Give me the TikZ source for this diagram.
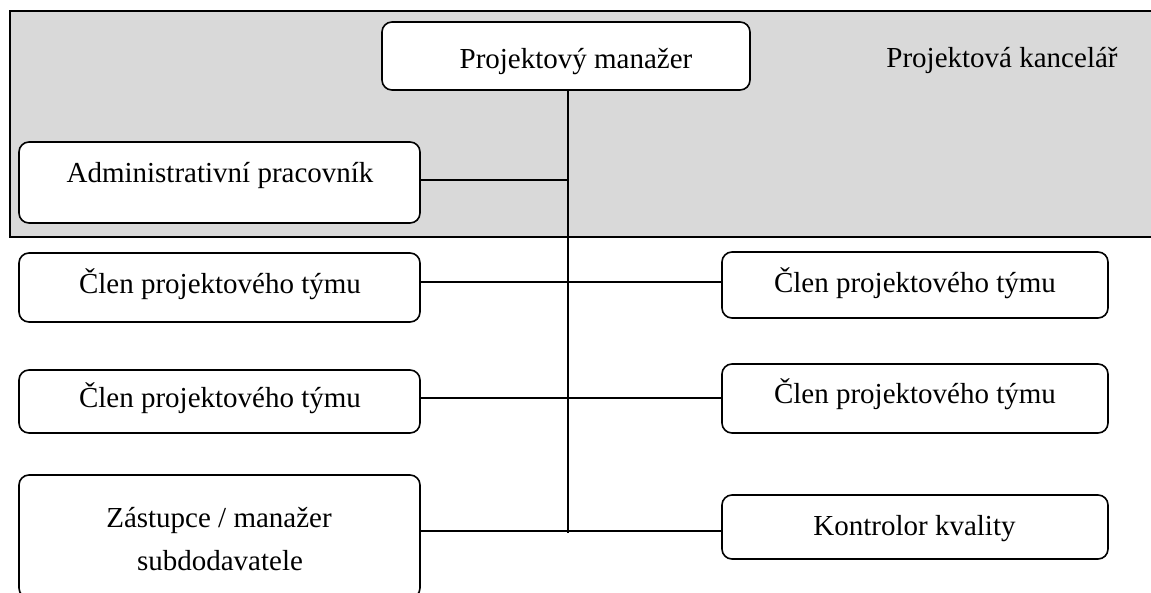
\documentclass[tikz,border=0pt]{standalone}
\usepackage{fontspec}
\setmainfont{Liberation Serif}
\definecolor{officegray}{RGB}{217,217,217}
\tikzset{
  role/.style={draw=black, line width=1.6pt, rounded corners=10pt, fill=white,
    inner sep=0pt, outer sep=0pt},
  caption/.style={anchor=base, inner sep=0pt, font=\fontsize{29}{34}\selectfont},
  link/.style={draw=black, line width=2pt},
}
\begin{document}
\begin{tikzpicture}[x=1pt, y=-1pt]
\useasboundingbox (0,0) rectangle (1151,592);

% project office area
\draw[line width=2pt, fill=officegray] (10,10.5) rectangle (1170,237);

% junction points of the tree
\coordinate (spinebot) at (568,533);
\coordinate (rowadm) at (568,180);
\coordinate (row1) at (568,282);
\coordinate (row2) at (568,398);
\coordinate (row3) at (568,531);

% role boxes
\node[role, minimum width=368pt, minimum height=68pt] (pm) at (566,56) {};
\node[role, minimum width=401pt, minimum height=81pt] (adm) at (219.5,182.5) {};
\node[role, minimum width=401pt, minimum height=69pt] (l1) at (219.5,287.5) {};
\node[role, minimum width=401pt, minimum height=63pt] (l2) at (219.5,401.5) {};
\node[role, minimum width=401pt, minimum height=123pt] (sub) at (219.5,536.5) {};
\node[role, minimum width=386pt, minimum height=66pt] (r1) at (915,285) {};
\node[role, minimum width=386pt, minimum height=69pt] (r2) at (915,398.5) {};
\node[role, minimum width=386pt, minimum height=64pt] (qc) at (915,527) {};

% connectors
\draw[link] (pm.south -| spinebot) -- (spinebot);
\draw[link] (adm.east |- rowadm) -- (rowadm);
\draw[link] (l1.east |- row1) -- (r1.west |- row1);
\draw[link] (l2.east |- row2) -- (r2.west |- row2);
\draw[link] (sub.east |- row3) -- (qc.west |- row3);

% labels
\node[caption] (pm-t) at (576,68) {Projektový manažer};
\node[caption] (office-t) at (1002,67) {Projektová kancelář};
\node[caption] (adm-t) at (220,182) {Administrativní pracovník};
\node[caption] (l1-t) at (220,293) {Člen projektového týmu};
\node[caption] (l2-t) at (220,407) {Člen projektového týmu};
\node[caption] (r1-t) at (915,292) {Člen projektového týmu};
\node[caption] (r2-t) at (915,403) {Člen projektového týmu};
\node[caption] (qc-t) at (914.5,535) {Kontrolor kvality};
\node[caption] (sub-t1) at (219,527) {Zástupce / manažer};
\node[caption] (sub-t2) at (220,570) {subdodavatele};
\end{tikzpicture}
\end{document}
